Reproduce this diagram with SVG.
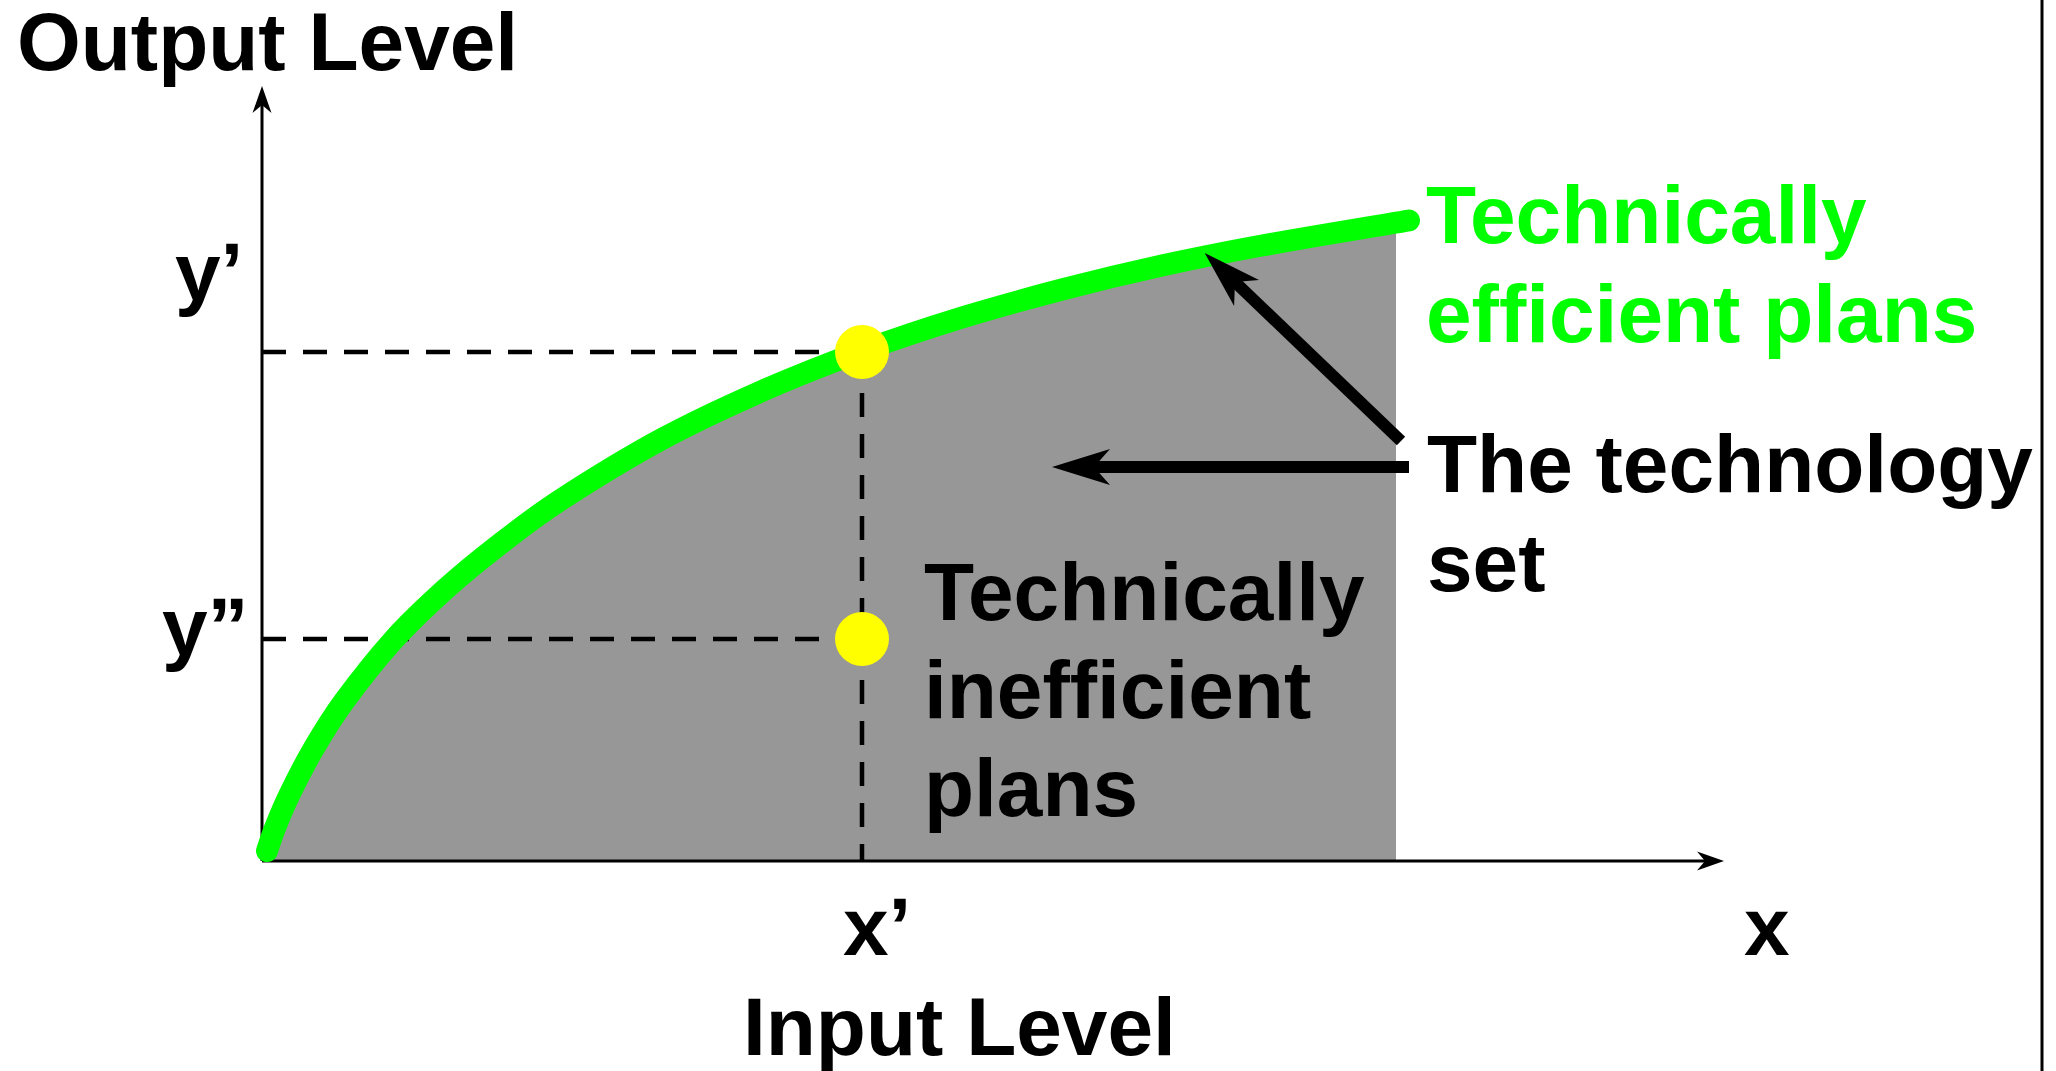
<svg xmlns="http://www.w3.org/2000/svg" width="2056" height="1071" viewBox="0 0 2056 1071">
<style>
text{font-family:"Liberation Sans",Arial,sans-serif;font-weight:bold;font-size:82px;fill:#000}
.green{fill:#00ff00}
.axis{stroke:#000;stroke-width:3;fill:none}
.dash{stroke:#000;stroke-width:4.5;stroke-dasharray:24 17;fill:none}
.ptr{stroke:#000;stroke-width:12;fill:none}
.dot{fill:#ffff00}
</style>
<defs>
<marker id="bigArrow" markerUnits="userSpaceOnUse" viewBox="-60 -20 62 40" refX="-42" refY="0" markerWidth="62" markerHeight="40" orient="auto">
<path d="M0,0 L-58,-18 L-42,0 L-58,18 Z" fill="#000"/>
</marker>
<marker id="axArrow" markerUnits="userSpaceOnUse" viewBox="-30 -12 32 24" refX="-19" refY="0" markerWidth="32" markerHeight="24" orient="auto">
<path d="M0,0 L-27,-9.5 L-19,0 L-27,9.5 Z" fill="#000"/>
</marker>
<clipPath id="setClip"><rect x="0" y="0" width="1396" height="1071"/></clipPath>
</defs>
<rect x="0" y="0" width="2056" height="1071" fill="#fff"/>
<line x1="2042" y1="0" x2="2042" y2="1071" stroke="#000" stroke-width="3"/>
<g id="technology-set">
<path clip-path="url(#setClip)" fill="#979797" d="M267,861 L267,851 C268.3,847.2 271.2,837.6 275,828 C278.8,818.4 283.5,806.8 290,793.5 C296.5,780.2 305,763.3 314,748 C323,732.7 330.8,719.4 344,701.5 C357.2,683.6 376.2,659.2 393,640.5 C409.8,621.8 427.2,605.6 445,589.5 C462.8,573.4 480.5,559.1 500,544 C519.5,528.9 535,516.5 562,499 C589,481.5 628.7,457 662,439 C695.3,421 728.7,405.7 762,391 C795.3,376.3 828.7,363.3 862,351 C895.3,338.8 928.7,327.8 962,317.5 C995.3,307.3 1028.7,298.2 1062,289.5 C1095.3,280.8 1128.7,272.8 1162,265.5 C1195.3,258.2 1220.8,253 1262,245.5 C1303.2,238 1384.5,224.7 1409,220.5 L1409,861 Z"/>
</g>
<g id="axes">
<path class="axis" d="M262,861 L262,105" marker-end="url(#axArrow)"/>
<path class="axis" d="M262,861 L1705,861" marker-end="url(#axArrow)"/>
</g>
<g id="guides">
<path class="dash" d="M262,352 L862,352"/>
<path class="dash" d="M262,639 L862,639"/>
<path class="dash" d="M862,352 L862,861"/>
</g>
<g id="frontier">
<path fill="none" stroke="#00ff00" stroke-width="22" stroke-linecap="round" stroke-linejoin="round" d="M267,851 C268.3,847.2 271.2,837.6 275,828 C278.8,818.4 283.5,806.8 290,793.5 C296.5,780.2 305,763.3 314,748 C323,732.7 330.8,719.4 344,701.5 C357.2,683.6 376.2,659.2 393,640.5 C409.8,621.8 427.2,605.6 445,589.5 C462.8,573.4 480.5,559.1 500,544 C519.5,528.9 535,516.5 562,499 C589,481.5 628.7,457 662,439 C695.3,421 728.7,405.7 762,391 C795.3,376.3 828.7,363.3 862,351 C895.3,338.8 928.7,327.8 962,317.5 C995.3,307.3 1028.7,298.2 1062,289.5 C1095.3,280.8 1128.7,272.8 1162,265.5 C1195.3,258.2 1220.8,253 1262,245.5 C1303.2,238 1384.5,224.7 1409,220.5"/>
</g>
<g id="points">
<circle class="dot" cx="862" cy="352" r="27"/>
<circle class="dot" cx="862" cy="639" r="27"/>
</g>
<g id="connectors">
<path class="ptr" d="M1401,441 L1235,282" marker-end="url(#bigArrow)"/>
<path class="ptr" d="M1409,467 L1094,467" marker-end="url(#bigArrow)"/>
</g>
<g id="labels">
<text x="17" y="70">Output Level</text>
<text x="175" y="300">y’</text>
<text x="162" y="655">y”</text>
<text x="843" y="955">x’</text>
<text x="1744" y="955">x</text>
<text x="743" y="1055">Input Level</text>
<text class="green" x="1426" y="243">Technically</text>
<text class="green" x="1426" y="342">efficient plans</text>
<text x="1427" y="492">The technology</text>
<text x="1427" y="591">set</text>
<text x="924" y="620">Technically</text>
<text x="924" y="718">inefficient</text>
<text x="924" y="816">plans</text>
</g>
</svg>
